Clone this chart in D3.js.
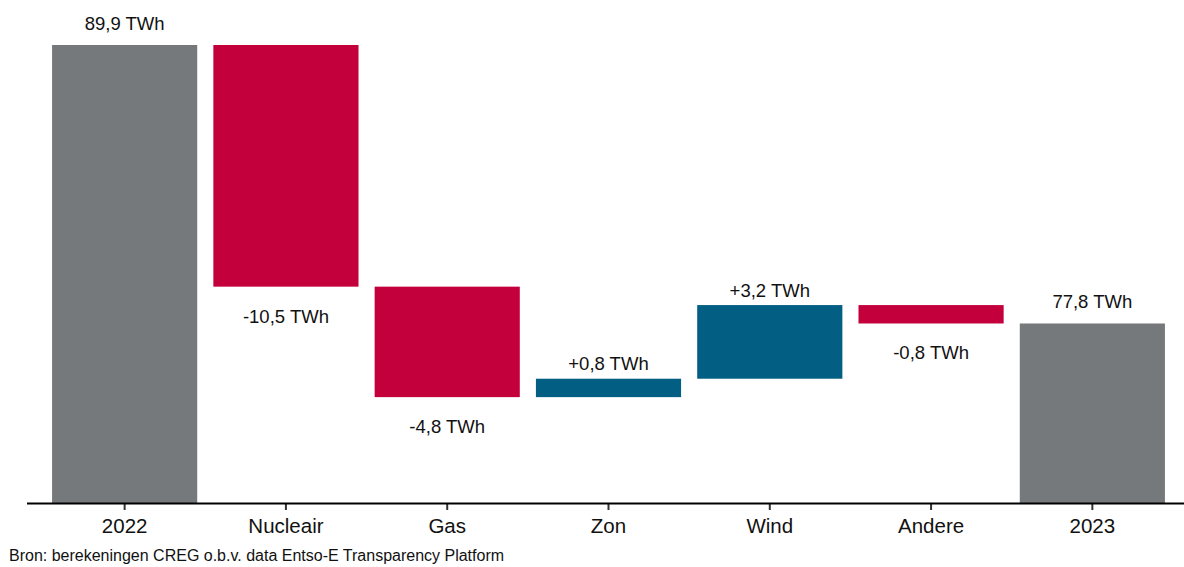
<!DOCTYPE html>
<html>
<head>
<meta charset="utf-8">
<script src="https://cdn.jsdelivr.net/npm/d3@7"></script>
<style>
  html, body { margin: 0; padding: 0; background: #fff; }
  svg { display: block; font-family: "Liberation Sans", Arial, sans-serif; }
</style>
</head>
<body>
<svg id="chart" width="1184" height="567"></svg>
<script>
// Waterfall: electricity production 2022 -> 2023 (TWh)
const categories = ["2022", "Nucleair", "Gas", "Zon", "Wind", "Andere", "2023"];
const kinds      = ["total", "delta", "delta", "delta", "delta", "delta", "total"];
const values     = [89.9, -10.5, -4.8, 0.8, 3.2, -0.8, 77.8];
const labels     = ["89,9 TWh", "-10,5 TWh", "-4,8 TWh", "+0,8 TWh", "+3,2 TWh", "-0,8 TWh", "77,8 TWh"];
const sourceText = "Bron: berekeningen CREG o.b.v. data Entso-E Transparency Platform";

const colors = { total: "#76797b", up: "#025e82", down: "#c4003c" };

const svg = d3.select("#chart");
const baseY = 503;

const x = d3.scaleBand()
  .domain(categories)
  .range([44, 1173])
  .paddingInner(0.1)
  .paddingOuter(0.05);

const y = d3.scaleLinear()
  .domain([70, 89.9])
  .range([baseY, 45]);

// running start/end for each step
let running = 0;
const bars = categories.map((c, i) => {
  let start, end;
  if (kinds[i] === "total") { start = y.domain()[0]; end = values[i]; running = values[i]; }
  else { start = running; end = running + values[i]; running = end; }
  return { cat: c, kind: kinds[i], value: values[i], start, end, label: labels[i] };
});

svg.append("g").selectAll("rect")
  .data(bars)
  .join("rect")
  .attr("x", d => x(d.cat))
  .attr("width", x.bandwidth())
  .attr("y", d => y(Math.max(d.start, d.end)))
  .attr("height", d => Math.abs(y(d.start) - y(d.end)))
  .attr("fill", d => d.kind === "total" ? colors.total : (d.value >= 0 ? colors.up : colors.down));

// value labels
svg.append("g").selectAll("text")
  .data(bars)
  .join("text")
  .attr("x", d => x(d.cat) + x.bandwidth() / 2)
  .attr("y", d => {
    if (d.kind === "total") return y(d.end) - 15.5;
    if (d.value >= 0) return y(d.end) - 8.5;
    return y(d.end) + 36;
  })
  .attr("text-anchor", "middle")
  .attr("font-size", 18.5)
  .attr("fill", "#111")
  .text(d => d.label);

// category axis
const axis = svg.append("g")
  .attr("transform", `translate(0,${baseY})`)
  .call(d3.axisBottom(x).tickSize(7).tickPadding(8));
axis.select(".domain").remove();
axis.append("line")
  .attr("x1", 27).attr("x2", 1184)
  .attr("y1", 0.5).attr("y2", 0.5)
  .attr("stroke", "#000").attr("stroke-width", 2);
axis.selectAll(".tick line").attr("stroke", "#333").attr("stroke-width", 2);
axis.selectAll(".tick text")
  .attr("font-size", 20.5)
  .attr("font-family", "Liberation Sans, Arial, sans-serif")
  .attr("fill", "#111");

// source
svg.append("text")
  .attr("x", 9)
  .attr("y", 561)
  .attr("font-size", 16)
  .attr("fill", "#111")
  .text(sourceText);
</script>
</body>
</html>
